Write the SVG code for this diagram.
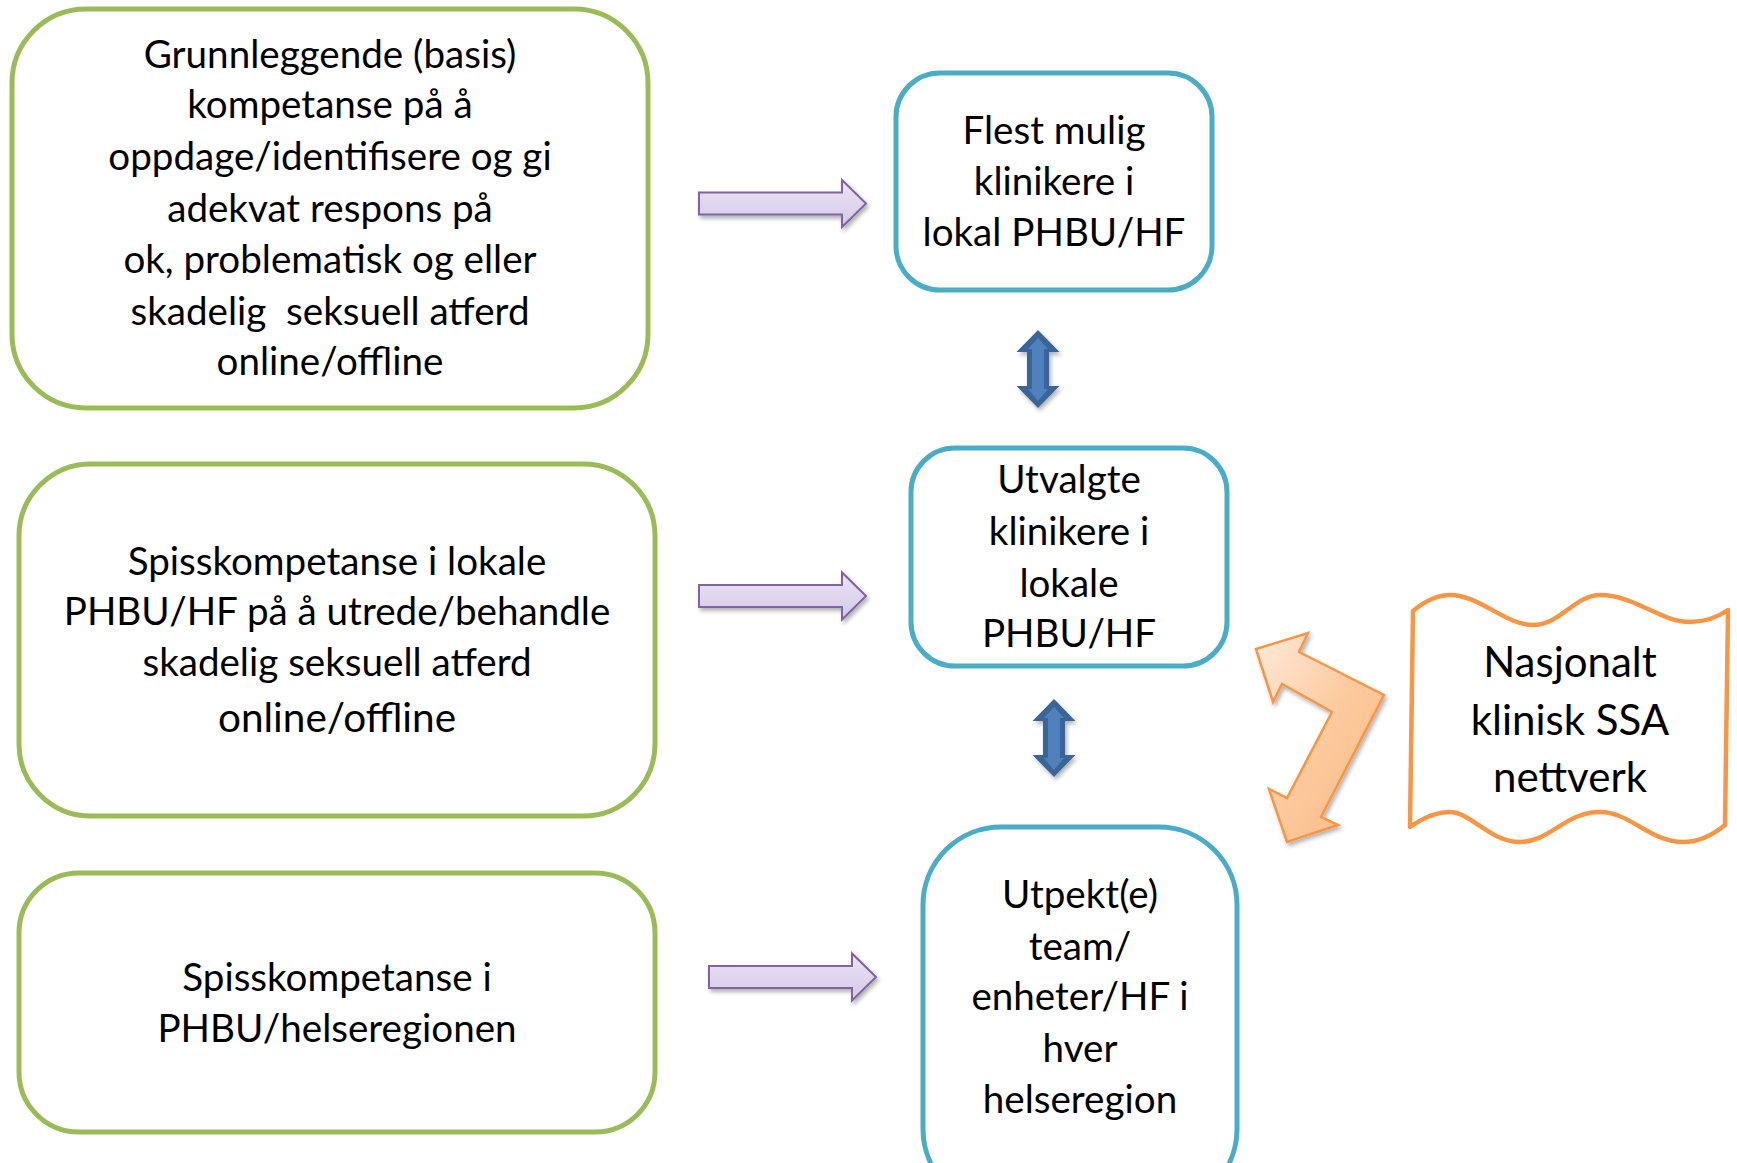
<svg xmlns="http://www.w3.org/2000/svg" xmlns:xlink="http://www.w3.org/1999/xlink" width="1737" height="1163" viewBox="0 0 1737 1163">
<defs>
<style>
text{font-family:Lato,"Open Sans","Liberation Sans",sans-serif;fill:#000;text-anchor:middle}
.t{font-size:38.6px}
.tb{font-size:42px}
.green{fill:#fff;stroke:#9bbb59;stroke-width:5}
.blue{fill:#fff;stroke:#4bacc6;stroke-width:5}
.purple{fill:url(#gp);stroke:#8064a2;stroke-width:2;stroke-linejoin:miter}
</style>
<linearGradient id="gp" x1="0" y1="0" x2="0" y2="1">
<stop offset="0" stop-color="#ece5f6"/>
<stop offset="1" stop-color="#d4c8e7"/>
</linearGradient>
<linearGradient id="go" x1="0" y1="0" x2="1" y2="1">
<stop offset="0" stop-color="#feeadb"/>
<stop offset="0.5" stop-color="#fcca9e"/>
<stop offset="1" stop-color="#fbb87f"/>
</linearGradient>
<filter id="sh" x="-20%" y="-20%" width="150%" height="150%">
<feDropShadow dx="2" dy="3" stdDeviation="2" flood-color="#000" flood-opacity="0.3"/>
</filter>
<path id="parrow" d="M0,-11 L143,-11 L143,-23.5 L167,0 L143,23.5 L143,11 L0,11 Z"/>
<g id="barrow">
<polygon points="0,-39 21.5,-17 11,-17 11,17 21.5,17 0,39 -21.5,17 -11,17 -11,-17 -21.5,-17" fill="#3b6597"/>
<polygon points="0,-31 10,-20 6,-20 6,20 10,20 0,32 -10,20 -6,20 -6,-20 -10,-20" fill="#4f81bd"/>
</g>
</defs>
<rect width="1737" height="1163" fill="#fff"/>

<g id="connectors">
<use xlink:href="#parrow" class="purple" transform="translate(699,203.5)" filter="url(#sh)"/>
<use xlink:href="#parrow" class="purple" transform="translate(699,596)" filter="url(#sh)"/>
<use xlink:href="#parrow" class="purple" transform="translate(709,977)" filter="url(#sh)"/>
<use xlink:href="#barrow" transform="translate(1038,369)" filter="url(#sh)"/>
<use xlink:href="#barrow" transform="translate(1054,738)" filter="url(#sh)"/>
<polygon points="1256,649 1308,633 1299,652 1384,695 1321,817 1338,825 1287,842 1269,789 1287,798 1332,712 1282,684 1273,702" fill="url(#go)" stroke="#f79646" stroke-width="2.5" stroke-linejoin="miter" filter="url(#sh)"/>
</g>

<g id="box-basis">
<rect class="green" x="12" y="9" width="636" height="399" rx="74" ry="74"/>
<text class="t" x="330" y="68">Grunnleggende (basis)</text>
<text class="t" x="330" y="118">kompetanse på å</text>
<text class="t" x="330" y="170">oppdage/identifisere og gi</text>
<text class="t" x="330" y="222">adekvat respons på</text>
<text class="t" x="330" y="273">ok, problematisk og eller</text>
<text class="t" x="330" y="325" xml:space="preserve">skadelig  seksuell atferd</text>
<text class="t" x="330" y="375">online/offline</text>
</g>

<g id="box-lokale">
<rect class="green" x="19" y="464" width="636" height="352" rx="72" ry="72"/>
<text class="t" x="337" y="575">Spisskompetanse i lokale</text>
<text class="t" x="337" y="625">PHBU/HF på å utrede/behandle</text>
<text class="t" x="337" y="676">skadelig seksuell atferd</text>
<text class="t" x="337" y="732" style="font-size:40.5px">online/offline</text>
</g>

<g id="box-region">
<rect class="green" x="19" y="873" width="636" height="259" rx="60" ry="60"/>
<text class="t" x="337" y="991">Spisskompetanse i</text>
<text class="t" x="337" y="1042">PHBU/helseregionen</text>
</g>

<g id="box-flest">
<rect class="blue" x="896" y="73" width="316" height="217" rx="44" ry="44"/>
<text class="t" x="1054" y="144">Flest mulig</text>
<text class="t" x="1054" y="195">klinikere i</text>
<text class="t" x="1054" y="246">lokal PHBU/HF</text>
</g>

<g id="box-utvalgte">
<rect class="blue" x="911" y="448" width="316" height="218" rx="44" ry="44"/>
<text class="t" x="1069" y="493">Utvalgte</text>
<text class="t" x="1069" y="545">klinikere i</text>
<text class="t" x="1069" y="597">lokale</text>
<text class="t" x="1069" y="647">PHBU/HF</text>
</g>

<g id="box-utpekt">
<rect class="blue" x="923" y="827" width="314" height="380" rx="78" ry="78"/>
<text class="t" x="1080" y="908">Utpekt(e)</text>
<text class="t" x="1080" y="960">team/</text>
<text class="t" x="1080" y="1010">enheter/HF i</text>
<text class="t" x="1080" y="1062">hver</text>
<text class="t" x="1080" y="1113">helseregion</text>
</g>

<g id="banner-nettverk">
<path d="M1413,611 C1425,601 1437,595 1450,595 C1480,595 1505,625 1533,625 C1560,625 1575,595 1600,595 C1635,595 1660,622 1690,622 C1705,622 1718,617 1728,610 L1725,825 C1713,835 1698,842 1683,842 C1650,842 1630,812 1600,812 C1565,812 1550,842 1520,842 C1490,842 1470,812 1450,812 C1433,812 1420,820 1410,827 Z" fill="#fff" stroke="#f79646" stroke-width="4.5" stroke-linejoin="round"/>
<text class="tb" x="1570" y="677">Nasjonalt</text>
<text class="tb" x="1570" y="735">klinisk SSA</text>
<text class="tb" x="1570" y="792">nettverk</text>
</g>
</svg>
